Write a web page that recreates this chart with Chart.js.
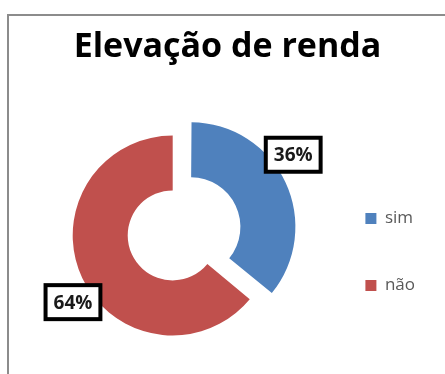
<!DOCTYPE html>
<html>
<head>
<meta charset="utf-8">
<script src="https://cdn.jsdelivr.net/npm/chart.js@4"></script>
<style>
  html, body { margin: 0; padding: 0; background: #fff; }
  body { width: 445px; height: 374px; overflow: hidden; position: relative; }
  #frame {
    position: absolute; left: 7px; top: 14px;
    border-left: 2px solid #8c8c8c; border-top: 2px solid #8c8c8c;
    width: 436px; height: 358px;
  }
</style>
</head>
<body>
<div id="frame"><canvas id="renda" width="436" height="358"></canvas></div>
<script>
const titulo = "Elevação de renda";
const categorias = ["sim", "não"];
const valores = [36, 64];
const rotulos = ["36%", "64%"];
const cores = ["#4f81bd", "#c0504d"];

// Chart.js desloca a fatia em offset/4 px
const deslocamento = [80, 0];

// caixas de rótulo com borda preta (estilo Excel)
const rotuloPlugin = {
  id: "rotulos",
  afterDatasetsDraw(chart) {
    const ctx = chart.ctx;
    const meta = chart.getDatasetMeta(0);
    ctx.save();
    ctx.font = "bold 19px 'Open Sans'";
    ctx.textAlign = "center";
    ctx.textBaseline = "middle";
    meta.data.forEach((arc, i) => {
      const p = arc.getProps(["x", "y", "startAngle", "endAngle", "outerRadius"], true);
      const mid = (p.startAngle + p.endAngle) / 2 - 0.15;
      const r = p.outerRadius + 20 + deslocamento[i] / 4 * 1.25;
      const cx = p.x + Math.cos(mid) * r;
      const cy = p.y + Math.sin(mid) * r;
      const w = ctx.measureText(rotulos[i]).width + 16;
      const h = 34;
      ctx.fillStyle = "#fff";
      ctx.fillRect(cx - w / 2, cy - h / 2, w, h);
      ctx.lineWidth = 4;
      ctx.strokeStyle = "#000";
      ctx.strokeRect(cx - w / 2, cy - h / 2, w, h);
      ctx.fillStyle = "#1a1a1a";
      ctx.fillText(rotulos[i], cx, cy + 1);
    });
    ctx.restore();
  }
};

new Chart(document.getElementById("renda"), {
  type: "doughnut",
  data: {
    labels: categorias,
    datasets: [{
      data: valores,
      backgroundColor: cores,
      borderWidth: 0,
      offset: deslocamento,
      hoverOffset: 0
    }]
  },
  options: {
    responsive: false,
    animation: false,
    radius: 100,
    cutout: "45%",
    layout: { padding: { left: 21, right: 20, bottom: 30 } },
    plugins: {
      title: {
        display: true,
        text: titulo,
        color: "#000",
        font: { family: "'Open Sans'", size: 34, weight: "bold" },
        padding: { top: 11, bottom: 59 }
      },
      legend: {
        position: "right",
        align: "end",
        labels: {
          boxWidth: 11,
          boxHeight: 11,
          padding: 50,
          color: "#595959",
          font: { family: "'Open Sans'", size: 17 }
        }
      },
      tooltip: { enabled: false }
    }
  },
  plugins: [rotuloPlugin]
});
</script>
</body>
</html>
